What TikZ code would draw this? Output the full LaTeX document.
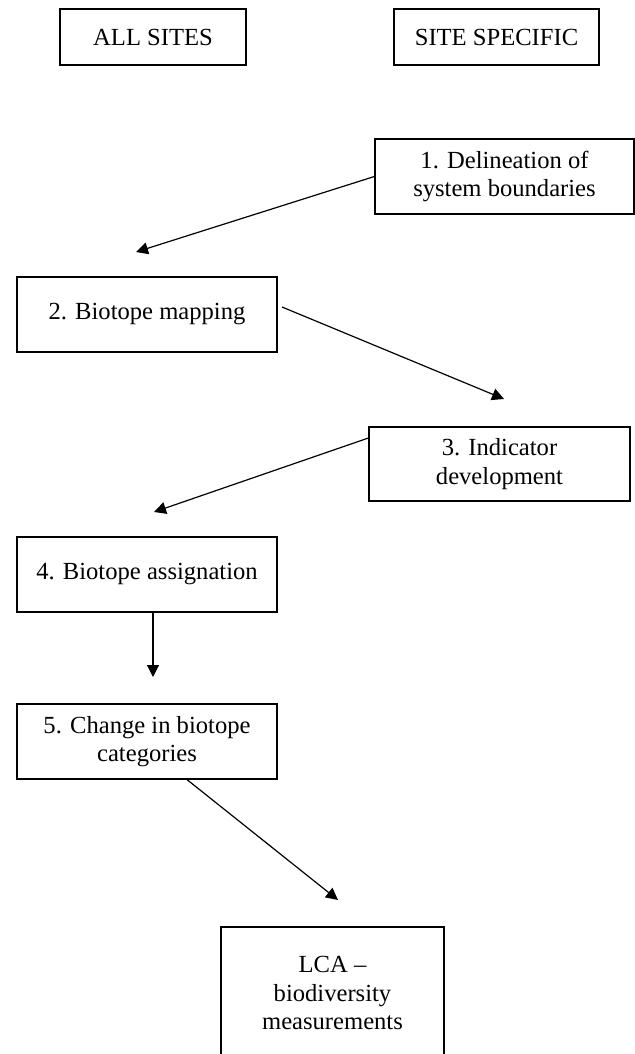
\documentclass[tikz,border=0pt]{standalone}
\usepackage{fontspec}
\setmainfont{Liberation Serif}
\usetikzlibrary{arrows.meta}

\begin{document}
\begin{tikzpicture}[x=0.5pt, y=-0.5pt,
        box/.style={draw, line width=0.6pt, align=center, inner sep=0pt},
        arr/.style={line width=0.6pt, -{Triangle[length=6pt, width=6pt]}},
        font=\fontsize{12.3}{14.25}\selectfont]
            \useasboundingbox (0,0) rectangle (635,1054);
            \node[box, minimum width=93pt, minimum height=28pt] (allsites) at (153,37) {ALL SITES};
            \node[box, minimum width=102.5pt, minimum height=28pt] (sitespec) at (496.5,37) {SITE SPECIFIC};
            \node[box, minimum width=129.5pt, minimum height=37.5pt] (delin) at (504.5,176.5) {1. Delineation of\\system boundaries};
            \node[box, minimum width=130pt, minimum height=37.5pt] (mapping) at (147,314.5) {2. Biotope mapping};
            \node[box, minimum width=130.5pt, minimum height=37pt] (indic) at (499.5,464) {3. Indicator\\development};
            \node[box, minimum width=130pt, minimum height=37.5pt] (assign) at (147,574.5) {4. Biotope assignation};
            \node[box, minimum width=130pt, minimum height=37.5pt] (change) at (147,741.5) {5. Change in biotope\\categories};
            \node[box, minimum width=111.5pt, minimum height=66pt] (lca) at (332.5,993) {LCA --\\biodiversity\\measurements};
            \coordinate (tipa) at (136,252);
            \coordinate (startb) at (282,307);
            \coordinate (tipb) at (504,399);
            \coordinate (tipc) at (154,512);
            \coordinate (tipd) at (153,677);
            \coordinate (tipe) at (338,900);
            \draw[arr] (delin.west) -- (tipa);
            \draw[arr] (startb) -- (tipb);
            \draw[arr] ([yshift=13pt]indic.west) -- (tipc);
            \draw[arr] ([xshift=3pt]assign.south) -- (tipd);
            \draw[arr] ([xshift=20pt]change.south) -- (tipe);
        \end{tikzpicture}
\end{document}
